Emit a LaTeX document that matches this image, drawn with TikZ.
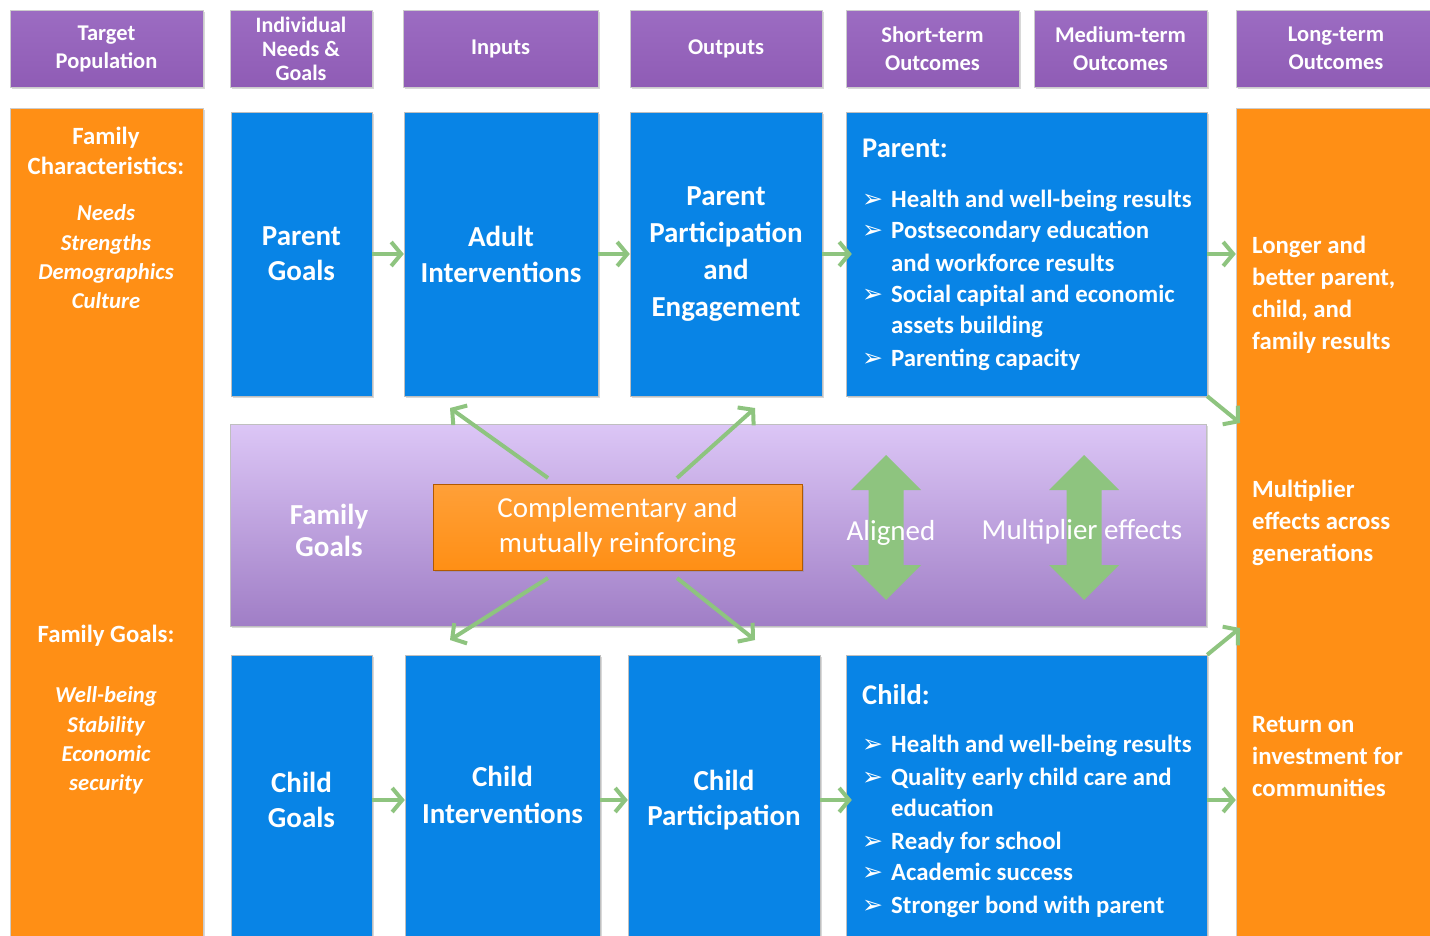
\documentclass[tikz,border=0pt]{standalone}
\usepackage{fontspec}
\setmainfont{Carlito}
\newfontfamily\symfont{DejaVu Sans}
\usetikzlibrary{arrows.meta,shadows}

\definecolor{headpurple}{HTML}{8F5CB5}
\definecolor{headtop}{HTML}{9C6CC2}
\definecolor{famorange}{HTML}{FF8F15}
\definecolor{boxblue}{HTML}{0884E6}
\definecolor{linkgreen}{HTML}{8EC47F}
\definecolor{bandtop}{HTML}{DCC6F6}
\definecolor{bandbot}{HTML}{A07EC6}

\tikzset{
  shade box/.style={drop shadow={shadow xshift=1.5pt,shadow yshift=-1.5pt,opacity=.3}},
  headbox/.style={draw=black!20, top color=headtop, bottom color=headpurple, text=white,
    align=center, font=\fontsize{22.5}{28}\selectfont\bfseries, minimum height=77pt,
    inner sep=0pt, shade box},
  colbox/.style={draw=black!20, fill=famorange, minimum width=193pt, minimum height=852pt,
    inner sep=0pt, shade box},
  bluebox/.style={draw=black!25, fill=boxblue, text=white, align=center,
    font=\fontsize{29}{36}\selectfont\bfseries, inner sep=0pt, shade box},
  boxtext/.style={text=white, align=center, inner sep=0pt},
  band/.style={draw=black!25, top color=bandtop, bottom color=bandbot,
    minimum width=976pt, minimum height=202pt, inner sep=0pt, shade box},
  compbox/.style={draw=orange!70!black, top color=famorange!85!white, bottom color=famorange,
    text=white, align=center, font=\fontsize{29}{35}\selectfont, minimum width=369pt,
    minimum height=86pt, inner sep=0pt, shade box},
  coltext/.style={text=white, align=center, font=\fontsize{24.8}{30}\selectfont\bfseries},
  colital/.style={text=white, align=center, font=\fontsize{22.7}{29.3}\selectfont\bfseries\itshape},
  rtext/.style={anchor=west, inner sep=0pt, text=white, align=left,
    font=\fontsize{24.8}{32}\selectfont\bfseries},
  ohead/.style={anchor=west, inner sep=0pt, text=white, font=\fontsize{28.5}{30}\selectfont\bfseries,
    text height=24pt, text depth=5pt},
  otext/.style={anchor=west, inner sep=0pt, text=white, font=\fontsize{24.8}{26}\selectfont\bfseries,
    text height=21pt, text depth=5pt},
  obul/.style={anchor=west, inner sep=0pt, text=white, font=\fontsize{25}{26}\selectfont\symfont,
    text height=21pt, text depth=5pt},
  link/.style={draw=linkgreen, line width=4pt, -{Straight Barb[length=10pt,width=24pt]}},
  bigtext/.style={text=white, font=\fontsize{29}{32}\selectfont}
}

\begin{document}
\begin{tikzpicture}[x=1pt,y=-1pt]
    \useasboundingbox (0,0) rectangle (1430,935);
    \fill[white] (0,0) rectangle (1430,935);
    \clip (0,0) rectangle (1430,935);

    % header row
    \node[headbox, minimum width=193pt] (hTarget) at (106.5,48.5) {Target\\Population};
    \node[headbox, minimum width=142pt, font=\fontsize{22}{24}\selectfont\bfseries] (hNeeds) at (301,48.5) {Individual\\Needs \&\\Goals};
    \node[headbox, minimum width=195pt] (hInputs) at (500.5,48.5) {Inputs};
    \node[headbox, minimum width=192pt] (hOutputs) at (726,48.5) {Outputs};
    \node[headbox, minimum width=173pt] (hShort) at (932.5,48.5) {Short-term\\Outcomes};
    \node[headbox, minimum width=173pt] (hMedium) at (1120.5,48.5) {Medium-term\\Outcomes};
    \node[headbox, minimum width=200pt] (hLong) at (1336,48.5) {Long-term\\Outcomes};

    % side columns
    \node[colbox] (lcol) at (106.5,534) {};
    \node[colbox, minimum width=200pt] (rcol) at (1336,534) {};

    % parent row
    \node[bluebox, minimum width=141pt, minimum height=284pt, font=\fontsize{29}{35}\selectfont\bfseries] (pgoal) at (301.5,254) {Parent\\Goals};
    \node[bluebox, minimum width=194pt, minimum height=284pt] (adult) at (501,254) {Adult\\Interventions};
    \node[bluebox, minimum width=192pt, minimum height=284pt, font=\fontsize{29}{36.7}\selectfont\bfseries] (ppart) at (726,254) {Parent\\Participation\\and\\Engagement};
    \node[bluebox, minimum width=361pt, minimum height=284pt] (pout) at (1026.5,254) {};

    % family band
    \node[band] (fam) at (718,525) {};
    \node[compbox] (comp) at (617.5,527) {Complementary and\\mutually reinforcing};
    \node[boxtext, font=\fontsize{29}{32}\selectfont\bfseries] (fgoal) at (329,530) {Family\\Goals};

    % child row
    \node[bluebox, minimum width=141pt, minimum height=290pt, font=\fontsize{29}{35}\selectfont\bfseries] (cgoal) at (301.5,800) {Child\\Goals};
    \node[bluebox, minimum width=195pt, minimum height=290pt] (cint) at (502.5,800) {};
    \node[boxtext, font=\fontsize{29}{37}\selectfont\bfseries] (cinttext) at (502.5,795) {Child\\Interventions};
    \node[bluebox, minimum width=192pt, minimum height=290pt, font=\fontsize{29}{35}\selectfont\bfseries] (cpart) at (724,800) {Child\\Participation};
    \node[bluebox, minimum width=361pt, minimum height=290pt] (cout) at (1026.5,800) {};

    % left column text
    \node[coltext] (lchar) at (106,151) {Family\\Characteristics:};
    \node[colital] (lneeds) at (106,257) {Needs\\Strengths\\Demographics\\Culture};
    \node[coltext] (lgoals) at (106,636) {Family Goals:};
    \node[colital] (lwell) at (106,740.5) {Well-being\\Stability\\Economic\\security};

    % right column text
    \node[rtext] (rlonger) at (1252,295) {Longer and\\better parent,\\child, and\\family results};
    \node[rtext] (rmult) at (1252,523) {Multiplier\\effects across\\generations};
    \node[rtext] (rret) at (1252,757) {Return on\\investment for\\communities};

    % parent outcomes
    \node[ohead] (phead) at (862,148) {Parent:};
    \node[obul] (pb1) at (862,199) {➢};
    \node[otext] (pt1) at (891,199) {Health and well-being results};
    \node[obul] (pb2) at (862,230) {➢};
    \node[otext] (pt2) at (891,230) {Postsecondary education};
    \node[otext] (pt2b) at (891,263) {and workforce results};
    \node[obul] (pb3) at (862,294) {➢};
    \node[otext] (pt3) at (891,294) {Social capital and economic};
    \node[otext] (pt3b) at (891,325) {assets building};
    \node[obul] (pb4) at (862,358) {➢};
    \node[otext] (pt4) at (891,358) {Parenting capacity};

    % child outcomes
    \node[ohead] (chead) at (862,695) {Child:};
    \node[obul] (cb1) at (862,744) {➢};
    \node[otext] (ct1) at (891,744) {Health and well-being results};
    \node[obul] (cb2) at (862,777) {➢};
    \node[otext] (ct2) at (891,777) {Quality early child care and};
    \node[otext] (ct2b) at (891,808) {education};
    \node[obul] (cb3) at (862,841) {➢};
    \node[otext] (ct3) at (891,841) {Ready for school};
    \node[obul] (cb4) at (862,872) {➢};
    \node[otext] (ct4) at (891,872) {Academic success};
    \node[obul] (cb5) at (862,905) {➢};
    \node[otext] (ct5) at (891,905) {Stronger bond with parent};

    % row links
    \draw[link] (pgoal) -- (adult);
    \draw[link] (adult) -- (ppart);
    \draw[link, shorten >=-6pt] (ppart) -- (pout);
    \draw[link] (pout.east) -- (pout.east -| rcol.west);
    \draw[link] (cgoal) -- (cint);
    \draw[link] (cint) -- (cpart);
    \draw[link, shorten >=-6pt] (cpart) -- (cout);
    \draw[link] (cout.east) -- (cout.east -| rcol.west);
    \coordinate (pcorner) at (1240,423);
    \coordinate (ccorner) at (1240,628);
    \draw[link] (pout.south east) -- (pcorner);
    \draw[link] (cout.north east) -- (ccorner);

    % links out of the band
    \coordinate (ua) at (548,478);
    \coordinate (ub) at (450,408);
    \coordinate (uc) at (677,478);
    \coordinate (ud) at (755,408);
    \coordinate (la) at (548,578);
    \coordinate (lb) at (450,640);
    \coordinate (lc) at (677,578);
    \coordinate (ld) at (755,640);
    \draw[link] (ua) -- (ub);
    \draw[link] (uc) -- (ud);
    \draw[link] (la) -- (lb);
    \draw[link] (lc) -- (ld);

    % double arrows
    \fill[linkgreen] (886,455) -- (921,490) -- (903.5,490) -- (903.5,565) -- (921,565) -- (886,600)
      -- (851,565) -- (868.5,565) -- (868.5,490) -- (851,490) -- cycle;
    \fill[linkgreen] (1084,455) -- (1119,490) -- (1101.5,490) -- (1101.5,565) -- (1119,565) -- (1084,600)
      -- (1049,565) -- (1066.5,565) -- (1066.5,490) -- (1049,490) -- cycle;
    \node[bigtext] (aligned) at (891,533) {Aligned};
    \node[bigtext] (multi) at (1082,532) {Multiplier effects};
  \end{tikzpicture}
\end{document}
